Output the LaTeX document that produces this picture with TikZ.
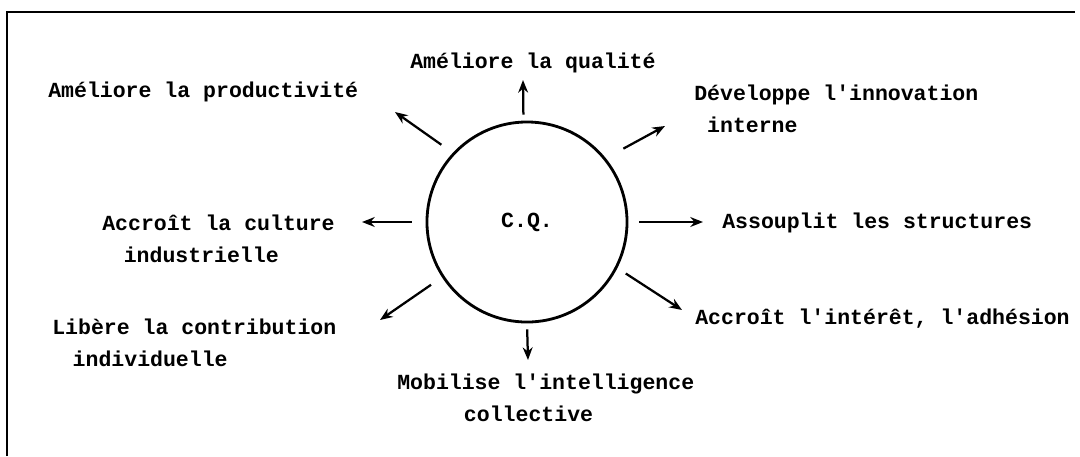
\documentclass[tikz,border=0pt]{standalone}
\usepackage{fontspec}
\setmonofont{Liberation Mono}
\usetikzlibrary{arrows.meta}
\tikzset{
  lab/.style={font=\ttfamily\bfseries\fontsize{15.3}{22.5}\selectfont, inner sep=0pt, align=left, anchor=base west},
  arr/.style={-{Stealth[length=9pt,width=7pt]}, line width=1.6pt},
  frame/.style={line width=1.7pt},
  hub/.style={circle, draw, line width=2pt, minimum size=5cm, inner sep=0pt, font=\ttfamily\bfseries\fontsize{15.3}{18}\selectfont}
}
\begin{document}
\begin{tikzpicture}[x=0.025cm,y=-0.025cm]
\useasboundingbox (0,0) rectangle (1080,456);
\draw[frame] (7,456) -- (7,12) -- (1075,12);

\node[hub] (cq) at (527,222) {C.Q.};

% single-line labels: anchor at baseline; two-line labels: anchor at second baseline
\node[lab] (qual) at (410,68) {Améliore la qualité};
\node[lab] (prod) at (48,97) {Améliore la productivité};
\node[lab] (dev) at (694,132) {Développe l\char"27 innovation\\\hspace*{0.6em}interne};
\node[lab] (cult) at (102,262) {Accroît la culture\\\hspace*{1em}industrielle};
\node[lab] (struct) at (722,228) {Assouplit les structures};
\node[lab] (adh) at (695,324) {Accroît l\char"27 intérêt, l\char"27 adhésion};
\node[lab] (lib) at (52,366) {Libère la contribution\\\hspace*{0.95em}individuelle};
\node[lab] (mob) at (397,421) {Mobilise l\char"27 intelligence\\\hspace*{3.1em}collective};

\coordinate (tqual) at (523,80);
\coordinate (tprod) at (395,112);
\coordinate (tdev) at (665,126);
\coordinate (tcult) at (362,222);
\coordinate (tstruct) at (703,222);
\coordinate (tadh) at (682,310);
\coordinate (tlib) at (380,320);
\coordinate (tmob) at (528,360);

\draw[arr, shorten <=0.15cm] (cq.92) -- (tqual);
\draw[arr, shorten <=0.35cm] (cq.137.5) -- (tprod);
\draw[arr, shorten <=0.5cm] (cq.39) -- (tdev);
\draw[arr, shorten <=0.35cm] (cq.180) -- (tcult);
\draw[arr, shorten <=0.275cm] (cq.0) -- (tstruct);
\draw[arr, shorten <=0.25cm] (cq.-27.5) -- (tadh);
\draw[arr, shorten <=0.33cm] (cq.213) -- (tlib);
\draw[arr, shorten <=0.15cm] (cq.270) -- (tmob);
\end{tikzpicture}
\end{document}
